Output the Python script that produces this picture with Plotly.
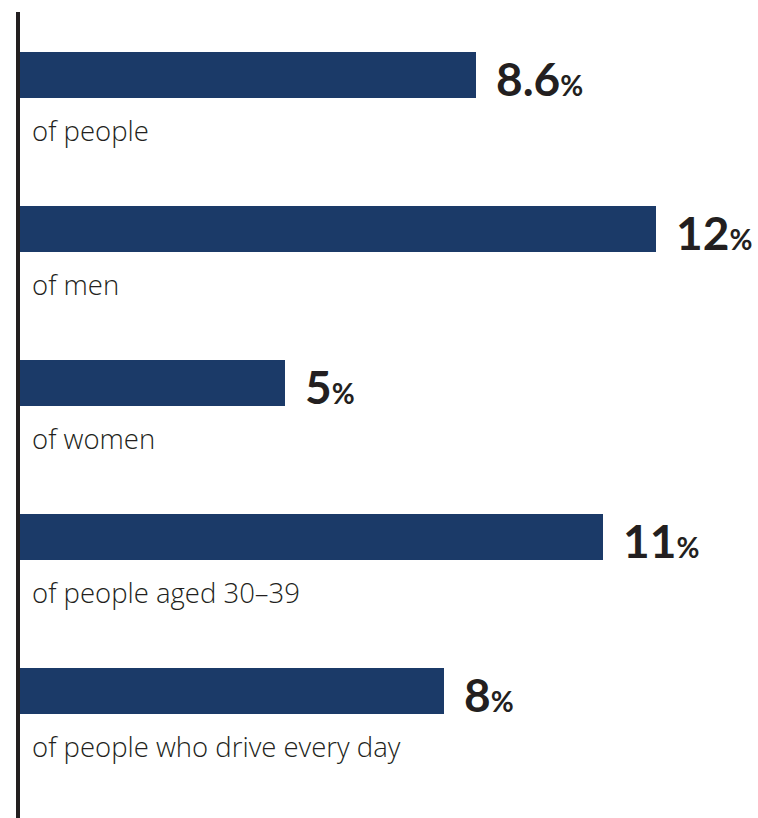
import plotly.graph_objects as go

# Survey shares by group
groups = ["of people", "of men", "of women", "of people aged 30–39",
          "of people who drive every day"]
shares = [8.6, 12, 5, 11, 8]
share_labels = ["8.6", "12", "5", "11", "8"]

BAR_COLOR = "#1b3a68"
TEXT_COLOR = "#231f20"

positions = list(range(len(groups)))

fig = go.Figure(
    go.Bar(
        x=shares,
        y=positions,
        orientation="h",
        width=0.3,
        marker=dict(color=BAR_COLOR, line=dict(width=0)),
        hoverinfo="skip",
    )
)

annotations = []
for pos, val, lab, grp in zip(positions, shares, share_labels, groups):
    annotations.append(dict(
        x=val, y=pos, xref="x", yref="y",
        text=f"<b>{lab}</b><b><span style='font-size:28px'>%</span></b>",
        showarrow=False, xanchor="left", yanchor="middle",
        xshift=18, yshift=-4,
        font=dict(family="Lato", size=46, color=TEXT_COLOR),
    ))
    annotations.append(dict(
        x=0, y=pos, xref="x", yref="y",
        text=grp,
        showarrow=False, xanchor="left", yanchor="middle",
        xshift=10, yshift=-56,
        font=dict(family="Open Sans", size=27.5, color=TEXT_COLOR, weight=300),
    ))

fig.update_layout(
    width=758, height=818,
    margin=dict(l=20, r=0, t=12, b=0),
    paper_bgcolor="white", plot_bgcolor="white",
    showlegend=False,
    bargap=0,
    xaxis=dict(range=[0, 13.925], visible=False, fixedrange=True),
    yaxis=dict(range=[4.825, -0.409], showticklabels=False, showgrid=False,
               zeroline=False, ticks="", showline=True, linewidth=4,
               linecolor=TEXT_COLOR, fixedrange=True),
    annotations=annotations,
)

fig.write_html("out.html")
